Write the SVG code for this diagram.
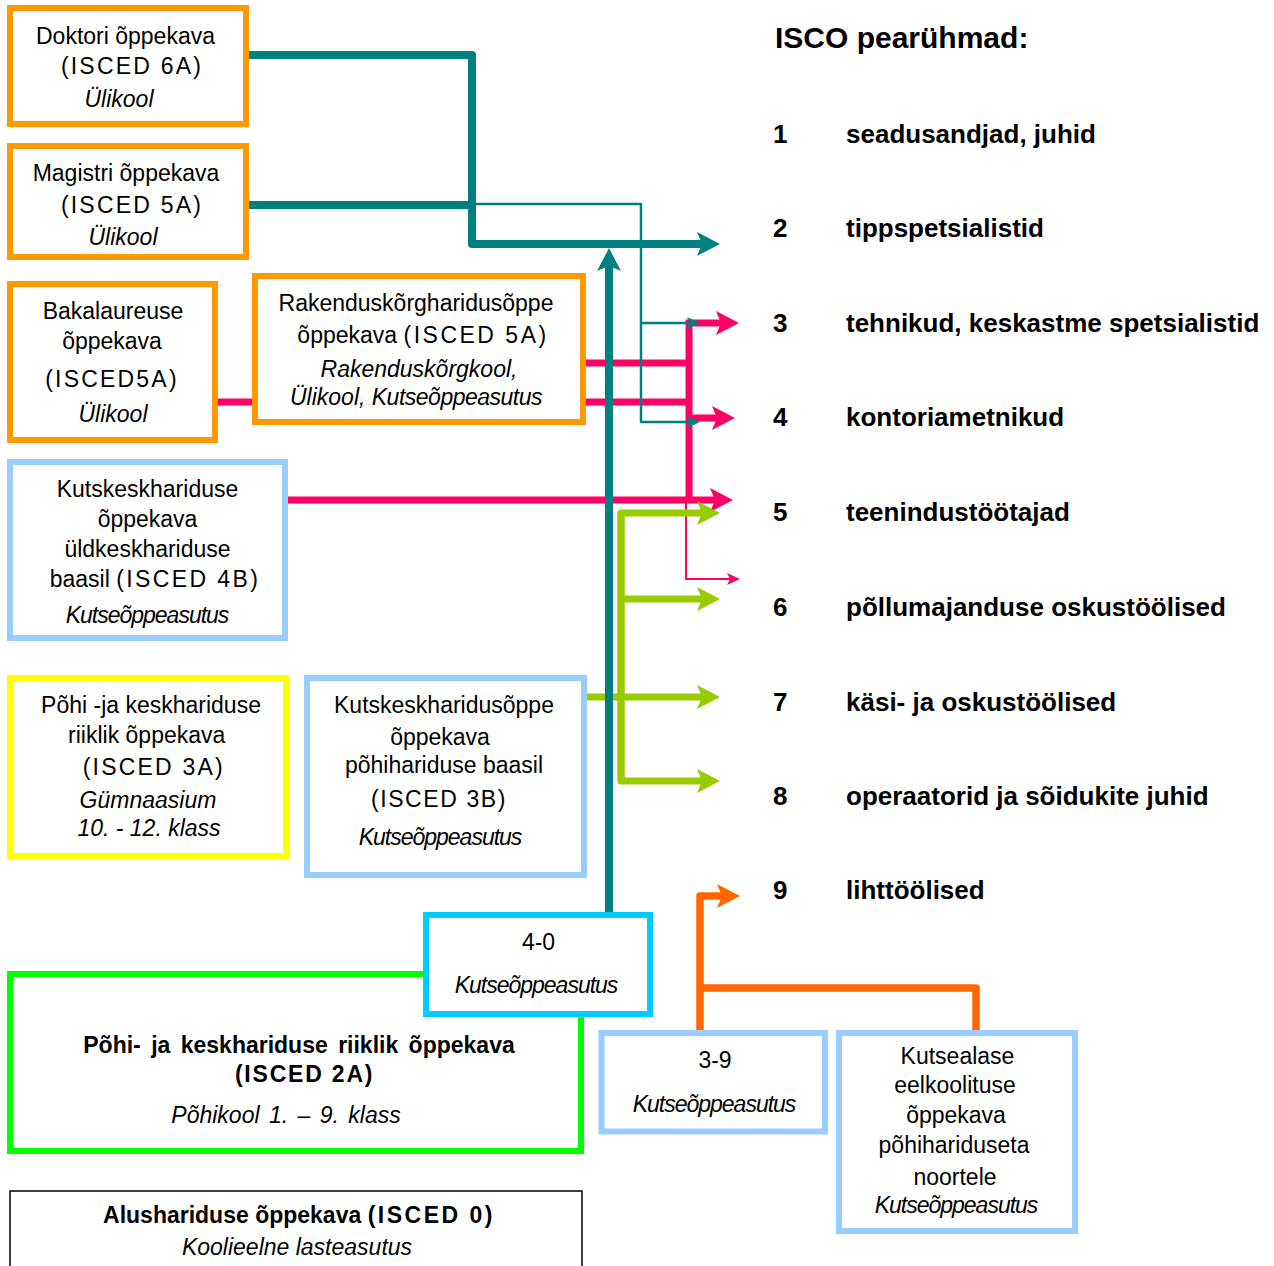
<svg xmlns="http://www.w3.org/2000/svg" width="1274" height="1266" viewBox="0 0 1274 1266">
<style>
text{font-family:"Liberation Sans",Arial,sans-serif;font-size:23px;fill:#000;text-anchor:middle}
.i{font-style:italic}
.b{font-weight:bold}
.k{font-style:italic;letter-spacing:-1px}
.sp{letter-spacing:2.2px}
.r{text-anchor:start;font-weight:bold;font-size:26px}
.box{fill:#fff;stroke-width:6}
.or{stroke:#FF9900}
.lb{stroke:#99CCFF}
.cy{stroke:#00CCFF}
.ye{stroke:#FFFF00}
.gr{stroke:#00FF00}
.ln{fill:none}
.teal{stroke:#008080;stroke-width:8;stroke-linejoin:round}
.tealT{stroke:#008080;stroke-width:2.5;stroke-linejoin:round}
.pink{stroke:#FF0066;stroke-width:7}
.pinkT{stroke:#FF0066;stroke-width:2}
.green{stroke:#99CC00;stroke-width:7;stroke-linejoin:round}
.orange{stroke:#FF6600;stroke-width:7.5;stroke-linejoin:round}
</style>
<defs>
<marker id="aTeal" markerUnits="userSpaceOnUse" markerWidth="24" markerHeight="26" refX="5" refY="12" orient="auto" overflow="visible"><path d="M0,0 L23,12 L0,24 L5,12 Z" fill="#008080"/></marker>
<marker id="aPink" markerUnits="userSpaceOnUse" markerWidth="24" markerHeight="26" refX="5" refY="12" orient="auto" overflow="visible"><path d="M0,0 L23,12 L0,24 L5,12 Z" fill="#FF0066"/></marker>
<marker id="aGreen" markerUnits="userSpaceOnUse" markerWidth="24" markerHeight="26" refX="5" refY="12" orient="auto" overflow="visible"><path d="M0,0 L23,12 L0,24 L5,12 Z" fill="#99CC00"/></marker>
<marker id="aOrange" markerUnits="userSpaceOnUse" markerWidth="24" markerHeight="26" refX="5" refY="12" orient="auto" overflow="visible"><path d="M0,0 L23,12 L0,24 L5,12 Z" fill="#FF6600"/></marker>
<marker id="aTealT" markerUnits="userSpaceOnUse" markerWidth="14" markerHeight="13" refX="3" refY="6" orient="auto" overflow="visible"><path d="M0,0 L13,6 L0,12 L3,6 Z" fill="#008080"/></marker>
<marker id="aPinkT" markerUnits="userSpaceOnUse" markerWidth="14" markerHeight="13" refX="3" refY="6" orient="auto" overflow="visible"><path d="M0,0 L13,6 L0,12 L3,6 Z" fill="#FF0066"/></marker>
</defs>
<rect width="1274" height="1266" fill="#fff"/>

<g id="connectors" class="ln">
  <path class="pink" d="M217,402 H252"/>
  <path class="pink" d="M583,363 H689"/>
  <path class="pink" d="M583,402 H689"/>
  <path class="pink" d="M689,503 V323 H721" marker-end="url(#aPink)"/>
  <path class="pink" d="M689,418 H717" marker-end="url(#aPink)"/>
  <path class="pink" d="M288,500 H715" marker-end="url(#aPink)"/>
  <path class="pinkT" d="M686,503 V579 H730" marker-end="url(#aPinkT)"/>
  <path class="green" d="M621,781 V513 H702" marker-end="url(#aGreen)"/>
  <path class="green" d="M621,513 V781 H702" marker-end="url(#aGreen)"/>
  <path class="green" d="M621,599 H702" marker-end="url(#aGreen)"/>
  <path class="green" d="M585,697 H702" marker-end="url(#aGreen)"/>
  <path class="tealT" d="M472,204 H641 V422 H690" marker-end="url(#aTealT)"/>
  <path class="tealT" d="M641,323 H690" marker-end="url(#aTealT)"/>
  <path class="teal" d="M248,55 H472 V244 H702" marker-end="url(#aTeal)"/>
  <path class="teal" d="M248,205 H472"/>
  <path class="teal" d="M609,915 V266" marker-end="url(#aTeal)"/>
  <path class="orange" d="M700,1033 V896 H722" marker-end="url(#aOrange)"/>
  <path class="orange" d="M700,988 H976 V1033"/>
</g>

<g id="doktori">
  <rect class="box or" x="10" y="8" width="236" height="116"/>
  <text x="125.5" y="44">Doktori õppekava</text>
  <text x="132" y="74" class="sp">(ISCED 6A)</text>
  <text x="119" y="107" class="i">Ülikool</text>
</g>
<g id="magistri">
  <rect class="box or" x="10" y="146" width="236" height="111"/>
  <text x="126" y="181">Magistri õppekava</text>
  <text x="132" y="213" class="sp">(ISCED 5A)</text>
  <text x="123" y="245" class="i">Ülikool</text>
</g>
<g id="bakalaureuse">
  <rect class="box or" x="10" y="284" width="205" height="156"/>
  <text x="113" y="319">Bakalaureuse</text>
  <text x="112" y="349">õppekava</text>
  <text x="112" y="387" class="sp">(ISCED5A)</text>
  <text x="113" y="422" class="i">Ülikool</text>
</g>
<g id="rakendus">
  <rect class="box or" x="255" y="276" width="328" height="146"/>
  <text x="416" y="311">Rakenduskõrgharidusõppe</text>
  <text x="423" y="343">õppekava <tspan style="letter-spacing:2.5px">(ISCED 5A)</tspan></text>
  <text x="419" y="377" class="i">Rakenduskõrgkool,</text>
  <text x="416" y="405" class="i">Ülikool, <tspan style="letter-spacing:-0.5px">Kutseõppeasutus</tspan></text>
</g>
<g id="kutsekesk4b">
  <rect class="box lb" x="10" y="462" width="275" height="176"/>
  <text x="147.5" y="497">Kutskeskhariduse</text>
  <text x="147.5" y="527">õppekava</text>
  <text x="147.5" y="557">üldkeskhariduse</text>
  <text x="155" y="587">baasil <tspan style="letter-spacing:2.4px">(ISCED 4B)</tspan></text>
  <text x="147" y="623" class="k">Kutseõppeasutus</text>
</g>
<g id="gymnaasium">
  <rect class="box ye" x="10" y="678" width="276" height="178"/>
  <text x="151" y="713">Põhi -ja keskhariduse</text>
  <text x="146.7" y="743">riiklik õppekava</text>
  <text x="153.8" y="775" class="sp">(ISCED 3A)</text>
  <text x="148" y="808" class="i">Gümnaasium</text>
  <text x="149" y="836" class="i">10. - 12. klass</text>
</g>
<g id="kutsekesk3b">
  <rect class="box lb" x="307" y="678" width="277" height="197"/>
  <text x="444" y="713">Kutskeskharidusõppe</text>
  <text x="440" y="745">õppekava</text>
  <text x="444" y="773">põhihariduse baasil</text>
  <text x="439" y="807" style="letter-spacing:1.6px">(ISCED 3B)</text>
  <text x="440" y="845" class="k">Kutseõppeasutus</text>
</g>
<g id="pohikool">
  <rect class="box gr" x="10" y="974" width="571" height="177"/>
  <text x="299" y="1053" class="b" style="word-spacing:4px">Põhi- ja keskhariduse riiklik õppekava</text>
  <text x="304.6" y="1082" class="b" style="letter-spacing:1.8px">(ISCED 2A)</text>
  <text x="286" y="1123" class="i" style="word-spacing:3px">Põhikool 1. – 9. klass</text>
</g>
<g id="kutse40">
  <rect class="box cy" x="426" y="915" width="224" height="99"/>
  <text x="538.5" y="950">4-0</text>
  <text x="536" y="993" class="k">Kutseõppeasutus</text>
</g>
<g id="alus">
  <rect x="10" y="1191" width="572" height="90" fill="#fff" stroke="#000" stroke-width="1.5"/>
  <text x="299" y="1223" class="b">Alushariduse õppekava <tspan style="letter-spacing:2.5px">(ISCED 0)</tspan></text>
  <text x="297" y="1255" class="i">Koolieelne lasteasutus</text>
</g>
<g id="kutse39">
  <rect class="box lb" x="601.5" y="1033" width="223.5" height="98.5"/>
  <text x="715" y="1068">3-9</text>
  <text x="714" y="1112" class="k">Kutseõppeasutus</text>
</g>
<g id="kutsealase">
  <rect class="box lb" x="839" y="1033" width="236" height="198"/>
  <text x="957.5" y="1064">Kutsealase</text>
  <text x="955" y="1093">eelkoolituse</text>
  <text x="956" y="1123">õppekava</text>
  <text x="954" y="1153">põhihariduseta</text>
  <text x="955" y="1185">noortele</text>
  <text x="956" y="1213" class="k">Kutseõppeasutus</text>
</g>

<g id="isco">
  <text x="775" y="48" class="r" style="font-size:30px">ISCO pearühmad:</text>
  <text x="773" y="143" class="r">1</text><text x="846" y="143" class="r">seadusandjad, juhid</text>
  <text x="773" y="237" class="r">2</text><text x="846" y="237" class="r">tippspetsialistid</text>
  <text x="773" y="332" class="r">3</text><text x="846" y="332" class="r">tehnikud, keskastme spetsialistid</text>
  <text x="773" y="426" class="r">4</text><text x="846" y="426" class="r">kontoriametnikud</text>
  <text x="773" y="521" class="r">5</text><text x="846" y="521" class="r">teenindustöötajad</text>
  <text x="773" y="616" class="r">6</text><text x="846" y="616" class="r">põllumajanduse oskustöölised</text>
  <text x="773" y="711" class="r">7</text><text x="846" y="711" class="r">käsi- ja oskustöölised</text>
  <text x="773" y="805" class="r">8</text><text x="846" y="805" class="r">operaatorid ja sõidukite juhid</text>
  <text x="773" y="899" class="r">9</text><text x="846" y="899" class="r">lihttöölised</text>
</g>
</svg>
